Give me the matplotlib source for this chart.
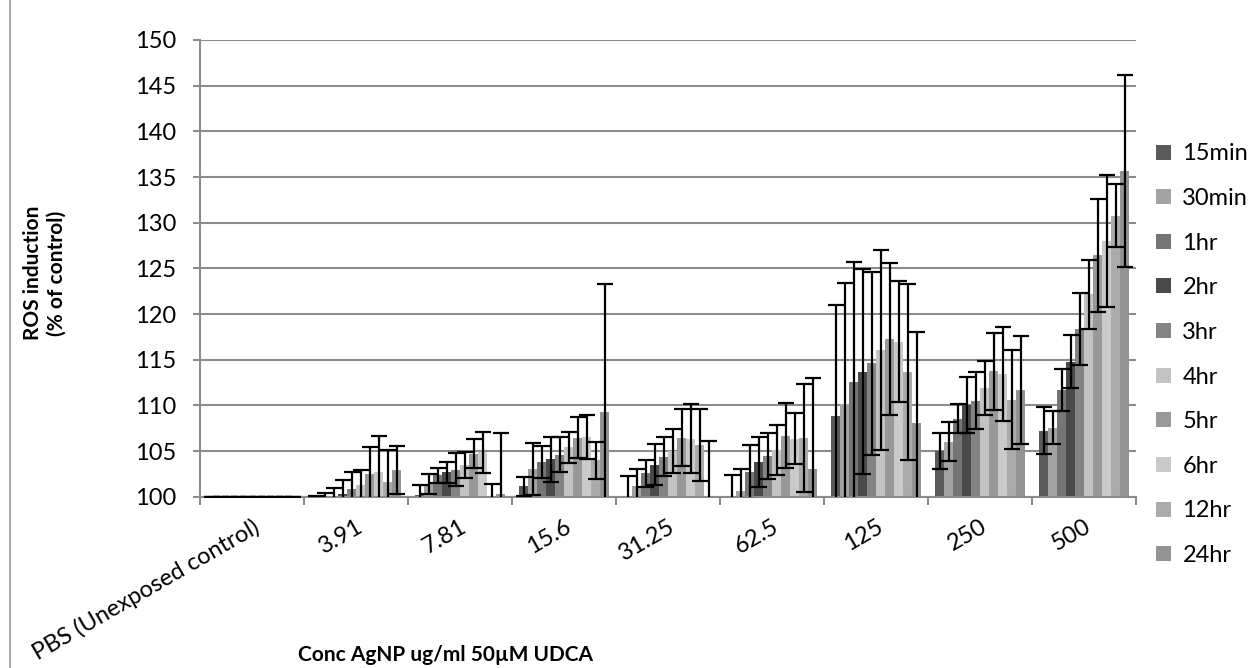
import matplotlib
matplotlib.use("Agg")
import matplotlib.pyplot as plt
import numpy as np

plt.rcParams['font.family'] = ['Lato', 'DejaVu Sans']

categories = ["PBS (Unexposed control)", "3.91", "7.81", "15.6", "31.25",
              "62.5", "125", "250", "500"]
series_names = ["15min", "30min", "1hr", "2hr", "3hr", "4hr", "5hr", "6hr",
                "12hr", "24hr"]
series_colors = ["#5a5a5a", "#a3a3a3", "#757575", "#4a4a4a", "#848484",
                 "#c3c3c3", "#999999", "#cacaca", "#ababab", "#939393"]

# ROS induction (% of control), one list per time point across concentrations
ros_15min = [100, 99.8, 100.18, 101.13, 100.0, 100.0, 108.83, 104.96, 107.21]
ros_30min = [100, 99.9, 101.37, 103.01, 101.2, 100.66, 110.11, 106.04, 107.57]
ros_1hr = [100, 100.07, 102.34, 103.78, 102.55, 102.7, 112.55, 108.54, 111.7]
ros_2hr = [100, 100.33, 102.66, 104.09, 103.52, 103.78, 113.7, 110.04, 114.78]
ros_3hr = [100, 100.88, 102.97, 104.62, 104.4, 104.42, 114.6, 110.53, 118.38]
ros_4hr = [100, 101.28, 103.43, 105.4, 105.0, 105.09, 116.06, 111.92, 122.14]
ros_5hr = [100, 102.45, 104.71, 106.48, 106.46, 106.66, 117.26, 113.72, 126.41]
ros_6hr = [100, 102.66, 104.85, 106.53, 106.35, 106.37, 116.97, 113.43, 127.96]
ros_12hr = [100, 101.64, 99.8, 103.98, 105.69, 106.4, 113.67, 110.62, 130.77]
ros_24hr = [100, 102.92, 100.26, 109.31, 99.8, 102.99, 108.1, 111.68, 135.64]

# standard deviations for the error bars
sd_15min = [0, 0.3, 1.06, 1.06, 2.3, 2.37, 12.2, 1.97, 2.57]
sd_30min = [0, 0.5, 1.1, 2.83, 1.86, 2.37, 13.3, 2.17, 1.84]
sd_1hr = [0, 0.9, 0.8, 1.77, 1.46, 2.96, 13.1, 1.6, 2.28]
sd_2hr = [0, 1.46, 1.13, 2.48, 2.24, 2.72, 11.2, 3.03, 2.92]
sd_3hr = [0, 1.86, 1.8, 1.95, 2.1, 2.5, 10.0, 3.12, 3.96]
sd_4hr = [0, 1.6, 1.42, 1.68, 2.44, 2.72, 10.9, 2.97, 3.74]
sd_5hr = [0, 3.0, 1.6, 2.2, 3.1, 3.56, 8.3, 4.2, 6.19]
sd_6hr = [0, 3.94, 2.26, 2.4, 3.8, 2.82, 6.6, 5.1, 7.24]
sd_12hr = [0, 3.43, 1.6, 2.0, 3.94, 5.93, 9.6, 5.44, 3.47]
sd_24hr = [0, 2.63, 6.7, 13.94, 6.3, 9.97, 9.9, 5.93, 10.53]

values = [ros_15min, ros_30min, ros_1hr, ros_2hr, ros_3hr, ros_4hr,
          ros_5hr, ros_6hr, ros_12hr, ros_24hr]
errors = [sd_15min, sd_30min, sd_1hr, sd_2hr, sd_3hr, sd_4hr,
          sd_5hr, sd_6hr, sd_12hr, sd_24hr]

W, H = 1248, 668
fig = plt.figure(figsize=(W / 100, H / 100), dpi=100)
ax = fig.add_axes([200 / W, 1 - 496.7 / H, 936 / W, 456.7 / H])

grid_color = "#8c8c8c"
tick_fs = 17
title_fs = 15
x = np.arange(len(categories))
n = len(series_names)
bw = 9 / 104

for i in range(n):
    ax.bar(x + (i - (n - 1) / 2) * bw, values[i], width=bw,
           color=series_colors[i], label=series_names[i], zorder=2,
           linewidth=0)
for i in range(n):
    ax.errorbar(x + (i - (n - 1) / 2) * bw, values[i], yerr=errors[i],
                fmt='none', ecolor='black', elinewidth=1.6, capsize=5.5,
                capthick=1.6, zorder=3)

ax.set_ylim(100, 150)
ax.set_xlim(-0.5, len(categories) - 0.5)
ax.set_yticks(np.arange(100, 151, 5))
ax.yaxis.grid(True, color=grid_color, linewidth=1.5, zorder=0)
ax.set_axisbelow(True)

for side in ("top", "right"):
    ax.spines[side].set_visible(False)
for side in ("left", "bottom"):
    ax.spines[side].set_color(grid_color)
    ax.spines[side].set_linewidth(1.5)

ax.tick_params(axis='y', length=5, width=1.5, color=grid_color,
               labelsize=tick_fs, pad=12)
ax.set_xticks(np.arange(len(categories) + 1) - 0.5, minor=True)
ax.tick_params(axis='x', which='minor', length=6, width=1.5,
               color=grid_color)
ax.set_xticks(x)
ax.set_xticklabels(categories, rotation=30, ha='right',
                   rotation_mode='anchor', fontsize=tick_fs)
ax.tick_params(axis='x', which='major', length=0, pad=14)

fig.text(45 / W, 1 - 273 / H, "ROS induction\n(% of control)",
         rotation=90, ha='center', va='center', fontsize=title_fs,
         fontweight='bold', linespacing=1.2)
fig.text(445 / W, 1 - 655 / H, "Conc AgNP ug/ml 50µM UDCA",
         ha='center', va='center', fontsize=title_fs, fontweight='bold')

leg = fig.legend(loc='upper left', bbox_to_anchor=(1147 / W, 1 - 134 / H),
                 frameon=False, fontsize=tick_fs, handlelength=0.6,
                 handleheight=0.6, handletextpad=0.5, labelspacing=1.0,
                 borderaxespad=0)

# chart border on the left edge
fig.add_artist(plt.Line2D([10 / W, 10 / W], [0, 1], color="#9a9a9a",
                          linewidth=1.2, transform=fig.transFigure))

fig.savefig("out.png", dpi=100)
